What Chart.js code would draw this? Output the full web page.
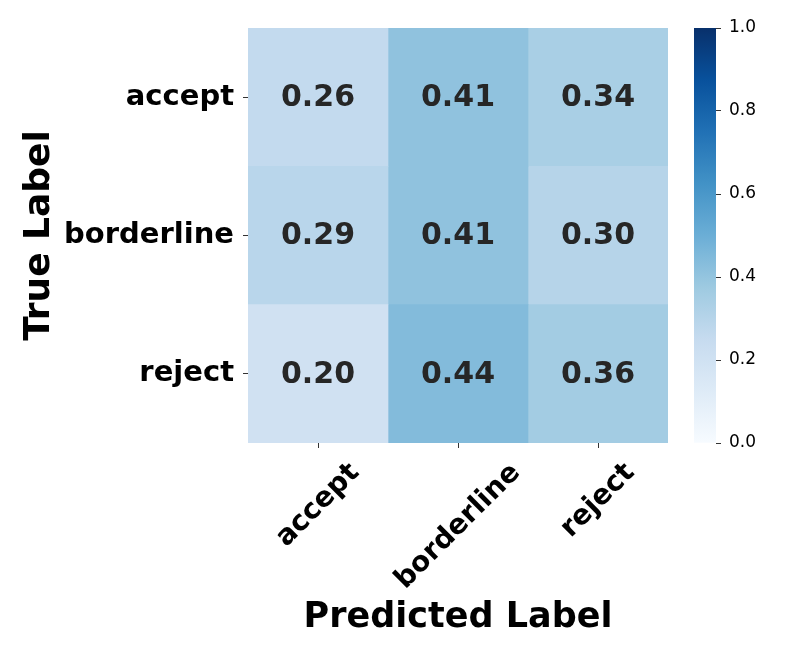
<!DOCTYPE html>
<html>
<head>
<meta charset="utf-8">
<script src="https://cdn.jsdelivr.net/npm/chart.js@4.4.0/dist/chart.umd.min.js"></script>
<style>
body { margin: 0; background: #fff; }
#wrap { position: relative; width: 793px; height: 661px; }
#heat { position: absolute; left: 0; top: 0; }
#cbar { position: absolute; left: 680px; top: 0; }
</style>
</head>
<body>
<div id="wrap">
<canvas id="heat" width="793" height="661"></canvas>
<canvas id="cbar" width="113" height="661"></canvas>
</div>
<script>
// confusion matrix (rows = true label, columns = predicted label)
var trueLabels = ['accept', 'borderline', 'reject'];
var predLabels = ['accept', 'borderline', 'reject'];
var acceptRow = [0.26, 0.41, 0.34];
var borderlineRow = [0.29, 0.41, 0.30];
var rejectRow = [0.20, 0.44, 0.36];
var colorbarTicks = [0.0, 0.2, 0.4, 0.6, 0.8, 1.0];

var matrix = [acceptRow, borderlineRow, rejectRow];

// matplotlib "Blues"
var bluesStops = ['#f7fbff', '#deebf7', '#c6dbef', '#9ecae1', '#6baed6', '#4292c6', '#2171b5', '#08519c', '#08306b'];

function hexToRgb(h) {
    return [parseInt(h.substr(1, 2), 16), parseInt(h.substr(3, 2), 16), parseInt(h.substr(5, 2), 16)];
}

function blues(v) {
    var n = bluesStops.length - 1;
    var t = Math.max(0, Math.min(1, v)) * n;
    var i = Math.min(Math.floor(t), n - 1);
    var f = t - i;
    var a = hexToRgb(bluesStops[i]);
    var b = hexToRgb(bluesStops[i + 1]);
    var c = [0, 1, 2].map(function (k) { return Math.round(a[k] + (b[k] - a[k]) * f); });
    return 'rgb(' + c.join(',') + ')';
}

var FONT = "'DejaVu Sans', sans-serif";
var TICK_COLOR = '#333333';

var datasets = [];
for (var j = 0; j < predLabels.length; j++) {
    datasets.push({
        label: predLabels[j],
        data: matrix.map(function () { return [j, j + 1]; }),
        values: matrix.map(function (row) { return row[j]; }),
        backgroundColor: matrix.map(function (row) { return blues(row[j]); }),
        borderWidth: 0,
        grouped: false,
        barPercentage: 1,
        categoryPercentage: 1
    });
}

var heatText = {
    id: 'heatText',
    afterDatasetsDraw: function (chart) {
        var ctx = chart.ctx;
        ctx.save();
        ctx.font = 'bold 30px ' + FONT;
        ctx.fillStyle = '#262626';
        ctx.textAlign = 'center';
        ctx.textBaseline = 'middle';
        chart.data.datasets.forEach(function (ds, i) {
            var meta = chart.getDatasetMeta(i);
            meta.data.forEach(function (bar, r) {
                var p = bar.getCenterPoint();
                ctx.fillText(ds.values[r].toFixed(2), p.x, p.y + 1);
            });
        });
        ctx.restore();
    },
    afterDraw: function (chart) {
        var ctx = chart.ctx;
        var area = chart.chartArea;
        var xs = chart.scales.x;
        ctx.save();
        ctx.fillStyle = '#000';

        // rotated x tick labels, centred under the ticks
        ctx.font = 'bold 28px ' + FONT;
        ctx.textAlign = 'center';
        ctx.textBaseline = 'middle';
        var top = area.bottom + 14;
        predLabels.forEach(function (lab, i) {
            var w = ctx.measureText(lab).width;
            var h = 28 * 1.16;
            var x = xs.getPixelForValue(i + 0.5);
            var y = top + (w + h) / (2 * Math.SQRT2);
            ctx.save();
            ctx.translate(x, y);
            ctx.rotate(-Math.PI / 4);
            ctx.fillText(lab, 0, 0);
            ctx.restore();
        });

        // axis titles
        ctx.font = 'bold 35px ' + FONT;
        ctx.textBaseline = 'alphabetic';
        ctx.fillText('Predicted Label', (area.left + area.right) / 2, 627);

        ctx.save();
        ctx.font = 'bold 36px ' + FONT;
        ctx.translate(49, (area.top + area.bottom) / 2);
        ctx.rotate(-Math.PI / 2);
        ctx.fillText('True Label', 0, 0);
        ctx.restore();

        ctx.restore();
    }
};

var heatChart = new Chart(document.getElementById('heat').getContext('2d'), {
    type: 'bar',
    data: {
        labels: trueLabels,
        datasets: datasets
    },
    plugins: [heatText],
    options: {
        indexAxis: 'y',
        responsive: false,
        animation: false,
        layout: { padding: { top: 28, right: 125, left: 0, bottom: 0 } },
        plugins: {
            legend: { display: false },
            tooltip: { enabled: false }
        },
        scales: {
            x: {
                type: 'linear',
                min: 0,
                max: 3,
                afterBuildTicks: function (scale) {
                    scale.ticks = predLabels.map(function (l, i) { return { value: i + 0.5 }; });
                },
                afterFit: function (scale) { scale.height = 218; },
                ticks: { display: false },
                grid: { drawOnChartArea: false, drawTicks: true, tickLength: 5, color: TICK_COLOR, lineWidth: 1 },
                border: { display: false }
            },
            y: {
                type: 'category',
                afterFit: function (scale) { scale.width = 248; },
                ticks: {
                    color: '#000',
                    padding: 9,
                    font: { family: FONT, size: 29, weight: 'bold' }
                },
                grid: { drawOnChartArea: false, drawTicks: true, tickLength: 5, offset: false, color: TICK_COLOR, lineWidth: 1 },
                border: { display: false }
            }
        }
    }
});

// colour bar
function barGradient(context) {
    var chart = context.chart;
    if (!chart.chartArea) return null;
    var ys = chart.scales.y;
    var g = chart.ctx.createLinearGradient(0, ys.getPixelForValue(0), 0, ys.getPixelForValue(1));
    bluesStops.forEach(function (c, i) { g.addColorStop(i / (bluesStops.length - 1), c); });
    return g;
}

var cbarChart = new Chart(document.getElementById('cbar').getContext('2d'), {
    type: 'bar',
    data: {
        labels: [''],
        datasets: [{
            data: [[0, 1]],
            backgroundColor: barGradient,
            borderWidth: 0,
            barPercentage: 1,
            categoryPercentage: 1
        }]
    },
    options: {
        responsive: false,
        animation: false,
        layout: { padding: { top: 28, right: 0, left: 14, bottom: 218 } },
        plugins: {
            legend: { display: false },
            tooltip: { enabled: false }
        },
        scales: {
            x: { display: false },
            y: {
                position: 'right',
                min: 0,
                max: 1,
                afterBuildTicks: function (scale) {
                    scale.ticks = colorbarTicks.map(function (v) { return { value: v }; });
                },
                afterFit: function (scale) { scale.width = 77; },
                ticks: {
                    color: '#000',
                    padding: 8,
                    font: { family: FONT, size: 17 },
                    callback: function (v) { return Number(v).toFixed(1); }
                },
                grid: { drawOnChartArea: false, drawTicks: true, tickLength: 5, color: TICK_COLOR, lineWidth: 1 },
                border: { display: false }
            }
        }
    }
});
</script>
</body>
</html>
